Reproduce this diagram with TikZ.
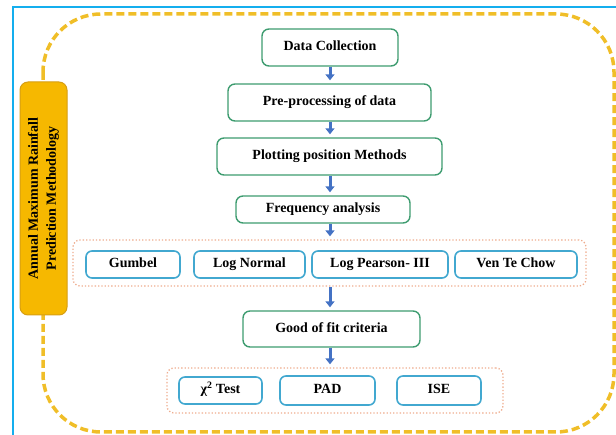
\documentclass[tikz,border=0pt]{standalone}
\usepackage{fontspec}
\setmainfont{Liberation Serif}
\usetikzlibrary{arrows.meta}
\definecolor{boxgreen}{RGB}{62,156,112}
\definecolor{boxblue}{RGB}{66,168,208}
\definecolor{dotpeach}{RGB}{238,172,142}
\definecolor{dashyellow}{RGB}{240,190,40}
\definecolor{titlefill}{RGB}{246,184,0}
\definecolor{titleedge}{RGB}{214,158,20}
\definecolor{arrowblue}{RGB}{68,114,196}
\definecolor{framecyan}{RGB}{20,174,238}

\begin{document}
\begin{tikzpicture}[x=1pt, y=-1pt, font=\bfseries\fontsize{14}{16}\selectfont, flowbox/.style = {shape=rectangle, draw=boxgreen, line width=1.4pt, rounded corners=7pt, align=center, fill=white, text height=9.5pt, text depth=3pt, minimum height=37pt}, methodbox/.style = {shape=rectangle, draw=boxblue, line width=1.6pt, rounded corners=6pt, align=center, fill=white, text height=9.5pt, text depth=3pt, minimum height=27pt}, groupbox/.style = {shape=rectangle, draw=dotpeach, line width=1.3pt, dotted, rounded corners=7pt}, titlebox/.style = {shape=rectangle, draw=titleedge, fill=titlefill, line width=1pt, rounded corners=8pt, align=center, font=\bfseries\fontsize{14}{18}\selectfont}, flowarrow/.style = {draw=arrowblue, line width=3pt, -{Triangle[width=9pt,length=6pt]}, shorten >=3pt}]
	\useasboundingbox (0,0) rectangle (616,435);
	\draw[framecyan, line width=2pt] (13,435) -- (13,7) -- (616,7);
	\draw[dashyellow, line width=3.5pt, dash pattern=on 8pt off 4pt, rounded corners=58pt] (43,14) rectangle (614,432);
	\node[titlebox, minimum width=233pt, minimum height=47pt, rotate=90] (title) at (43.5,198.5) {Annual Maximum Rainfall\\Prediction Methodology};
	\node[flowbox, minimum width=136pt] (dc) at (330,47.5) {Data Collection};
	\node[flowbox, minimum width=203pt] (pp) at (329.5,102.5) {Pre-processing of data};
	\node[flowbox, minimum width=225pt] (pm) at (329.5,156.5) {Plotting position Methods};
	\node[flowbox, minimum width=174pt, minimum height=27pt] (fa) at (323,209.5) {Frequency analysis};
	\node[groupbox, minimum width=513pt, minimum height=46pt] (g1) at (329.5,263) {};
	\node[methodbox, minimum width=94pt] (gu) at (133,264.5) {Gumbel};
	\node[methodbox, minimum width=111pt] (ln) at (249.5,264.5) {Log Normal};
	\node[methodbox, minimum width=136pt] (lp) at (380,264.5) {Log Pearson- III};
	\node[methodbox, minimum width=122pt] (vc) at (516,264.5) {Ven Te Chow};
	\node[flowbox, minimum width=177pt, minimum height=36pt] (gf) at (331.5,329) {Good of fit criteria};
	\node[groupbox, minimum width=336pt, minimum height=45pt] (g2) at (335,390.5) {};
	\node[methodbox, minimum width=83pt] (ct) at (220.5,390.5) {χ\textsuperscript{2} Test};
	\node[methodbox, minimum width=95pt, minimum height=29pt] (pad) at (327.5,390.5) {PAD};
	\node[methodbox, minimum width=84pt, minimum height=29pt] (ise) at (439,390.5) {ISE};
	\foreach \a/\b in {dc/pp, pp/pm, pm/fa, fa/g1, g1/gf, gf/g2}
		\draw[flowarrow] (\a.south -| dc.south) -- (\b.north -| dc.south);
\end{tikzpicture}
\end{document}
